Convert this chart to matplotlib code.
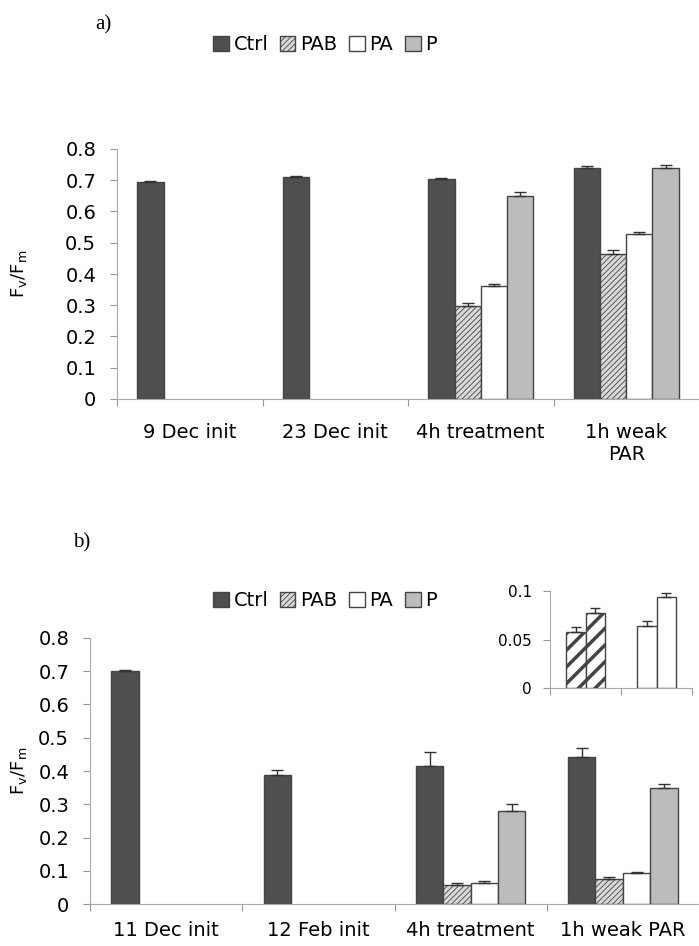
import matplotlib.pyplot as plt
import matplotlib.patches as mpatches
import numpy as np

# Data
series = ["Ctrl", "PAB", "PA", "P"]

cats_a = ["9 Dec init", "23 Dec init", "4h treatment", "1h weak\nPAR"]
ctrl_a = [0.695, 0.710, 0.705, 0.740]
pab_a = [None, None, 0.298, 0.463]
pa_a = [None, None, 0.362, 0.528]
p_a = [None, None, 0.651, 0.738]
ctrl_a_err = [0.003, 0.005, 0.003, 0.005]
pab_a_err = [None, None, 0.010, 0.015]
pa_a_err = [None, None, 0.005, 0.005]
p_a_err = [None, None, 0.010, 0.010]

cats_b = ["11 Dec init", "12 Feb init", "4h treatment", "1h weak PAR"]
ctrl_b = [0.700, 0.388, 0.415, 0.443]
pab_b = [None, None, 0.058, 0.077]
pa_b = [None, None, 0.064, 0.094]
p_b = [None, None, 0.281, 0.348]
ctrl_b_err = [0.003, 0.015, 0.042, 0.027]
pab_b_err = [None, None, 0.005, 0.005]
pa_b_err = [None, None, 0.005, 0.004]
p_b_err = [None, None, 0.020, 0.013]

# Styles
faces = ["#4f4f4f", "#d9d9d9", "white", "#bcbcbc"]
hatches = [None, "//////", None, None]
edge = "#444444"
W, H = 699, 946


def fig_rect(left, top, right, bottom):
    return [left / W, 1 - bottom / H, (right - left) / W, (bottom - top) / H]


def style_axes(ax, ncat, ticks, ticklabels):
    for s in ["top", "right"]:
        ax.spines[s].set_visible(False)
    for s in ["left", "bottom"]:
        ax.spines[s].set_color("#aaaaaa")
    ax.set_xticks(range(ncat + 1))
    ax.set_xticklabels([])
    ax.set_yticks(ticks)
    ax.set_yticklabels(ticklabels)
    ax.tick_params(axis="both", which="major", color="#999999", length=5,
                   direction="out")


def draw_panel(ax, cats, values, errs, label_pad, width=0.18):
    n = len(values)
    for j, (vals, es) in enumerate(zip(values, errs)):
        xs, vs, ee = [], [], []
        for i, (v, e) in enumerate(zip(vals, es)):
            if v is None:
                continue
            xs.append(i + 0.5 + (j - (n - 1) / 2) * width)
            vs.append(v)
            ee.append(e)
        ax.bar(xs, vs, width=width, color=faces[j], edgecolor=edge,
               linewidth=1, hatch=hatches[j], zorder=2)
        ax.errorbar(xs, vs, yerr=[[0] * len(ee), ee], fmt="none",
                    ecolor="#333333", elinewidth=1, capsize=4, capthick=1,
                    zorder=3)
    ax.set_xticks(np.arange(len(cats)) + 0.5, minor=True)
    ax.set_xticklabels(cats, minor=True)
    for lab in ax.get_xticklabels(minor=True):
        lab.set_linespacing(1.75)
    ax.tick_params(axis="x", which="minor", length=0, pad=label_pad,
                   labelsize=14)
    ax.tick_params(axis="y", labelsize=14, pad=10)


plt.rcParams["hatch.color"] = "#777777"
plt.rcParams["hatch.linewidth"] = 0.6

fig = plt.figure(figsize=(W / 100, H / 100), dpi=100)
yticks = [0, 0.1, 0.2, 0.3, 0.4, 0.5, 0.6, 0.7, 0.8]
ylabels = [f"{t:g}" for t in yticks]

# Panel a
ax_a = fig.add_axes(fig_rect(117, 149, 699, 399))
draw_panel(ax_a, cats_a, [ctrl_a, pab_a, pa_a, p_a],
           [ctrl_a_err, pab_a_err, pa_a_err, p_a_err], label_pad=17)
ax_a.set_xlim(0, 582 / 147)
ax_a.set_ylim(0, 0.8)
style_axes(ax_a, 4, yticks, ylabels)
ax_a.set_ylabel(r"F$_\mathregular{v}$/F$_\mathregular{m}$", fontsize=13)
ax_a.yaxis.set_label_coords(-0.152, 0.5)

# Panel b
ax_b = fig.add_axes(fig_rect(90, 637.7, 699, 904.3))
draw_panel(ax_b, cats_b, [ctrl_b, pab_b, pa_b, p_b],
           [ctrl_b_err, pab_b_err, pa_b_err, p_b_err], label_pad=12)
ax_b.set_xlim(0, 609 / 153.3)
ax_b.set_ylim(0, 0.8)
style_axes(ax_b, 4, yticks, ylabels)
ax_b.set_ylabel(r"F$_\mathregular{v}$/F$_\mathregular{m}$", fontsize=13)
ax_b.yaxis.set_label_coords(-0.100, 0.5)

# Inset of PAB and PA in panel b
ax_in = fig.add_axes(fig_rect(550, 590.7, 692, 688.3))
inset_w = 0.28
with plt.rc_context({"hatch.color": "black", "hatch.linewidth": 2.5}):
    for k, (vals, es, face, hatch) in enumerate(
            [(pab_b, pab_b_err, "white", "//"), (pa_b, pa_b_err, "white", None)]):
        vs = [v for v in vals if v is not None]
        ee = [e for e in es if e is not None]
        xs = [k + 0.5 + (j - 0.5) * inset_w for j in range(len(vs))]
        bars = ax_in.bar(xs, vs, width=inset_w, color=face, edgecolor=edge,
                         linewidth=1, hatch=hatch, zorder=2)
        for b in bars:
            if hasattr(b, "set_hatch_linewidth"):
                b.set_hatch_linewidth(2.5)
        ax_in.errorbar(xs, vs, yerr=[[0] * len(ee), ee], fmt="none",
                       ecolor="#333333", elinewidth=1, capsize=3.5,
                       capthick=1, zorder=3)
ax_in.set_xlim(0, 2)
ax_in.set_ylim(0, 0.1)
style_axes(ax_in, 2, [0, 0.05, 0.1], ["0", "0.05", "0.1"])
ax_in.tick_params(axis="y", labelsize=11, pad=8)

# Legends
handles = [mpatches.Patch(facecolor=faces[j], edgecolor=edge, hatch=hatches[j],
                          linewidth=1) for j in range(4)]
for cy in [45, 601]:
    fig.legend(handles, series, loc="center",
               bbox_to_anchor=(325 / W, 1 - cy / H), ncol=4, frameon=False,
               fontsize=14, handlelength=0.8, handleheight=0.8,
               handletextpad=0.25, columnspacing=0.6, borderaxespad=0)

# Panel letters
fig.text(95 / W, 1 - 25 / H, "a)", family="Liberation Serif", fontsize=15,
         va="center")
fig.text(73 / W, 1 - 543 / H, "b)", family="Liberation Serif", fontsize=15,
         va="center")

fig.savefig("out.png", dpi=100, facecolor="white")
